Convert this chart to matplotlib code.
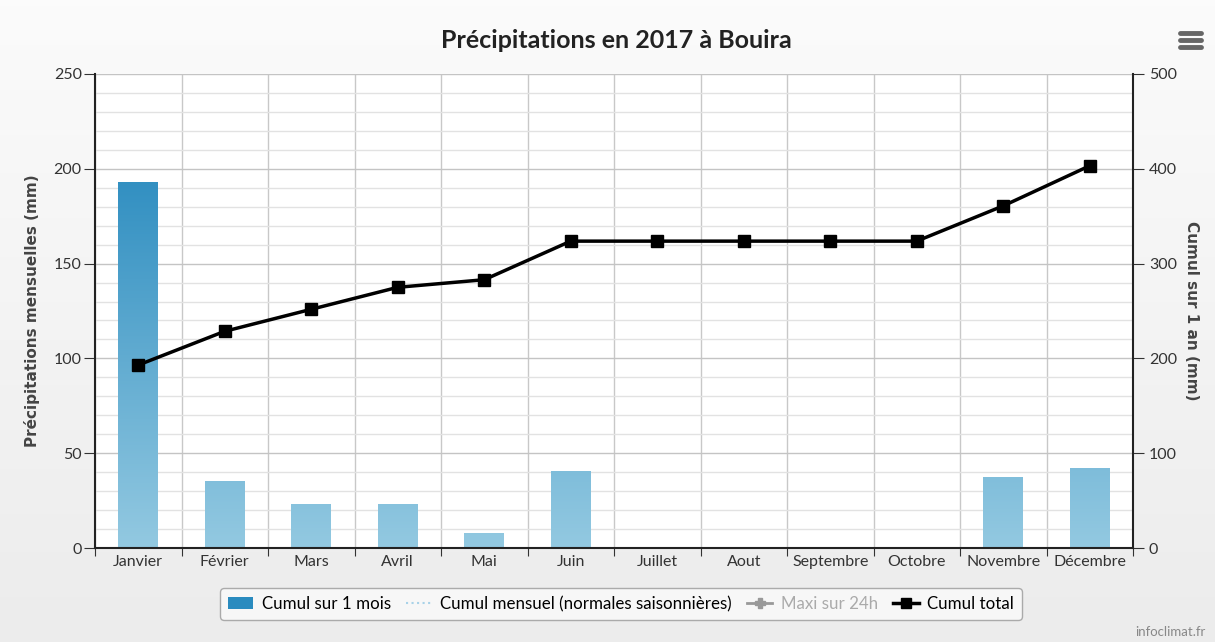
import numpy as np
import matplotlib
matplotlib.use("Agg")
import matplotlib.pyplot as plt
from matplotlib.colors import LinearSegmentedColormap
from matplotlib.lines import Line2D
from matplotlib.patches import Patch

plt.rcParams['font.family'] = ['Lato', 'DejaVu Sans']

# donnees
mois = ['Janvier', 'Février', 'Mars', 'Avril', 'Mai', 'Juin', 'Juillet',
        'Aout', 'Septembre', 'Octobre', 'Novembre', 'Décembre']
cumul_mois = [193, 35.6, 23.2, 23.2, 8, 40.7, 0, 0, 0, 0, 37.2, 42.3]
cumul_total = [193, 228.6, 251.8, 275, 283, 323.7, 323.7, 323.7, 323.7, 323.7, 360.9, 403.2]

fig = plt.figure(figsize=(12.15, 6.42), dpi=100)

# fond gris clair degrade
bg = fig.add_axes([0, 0, 1, 1], zorder=-10)
bg.imshow(np.linspace(0, 1, 100).reshape(-1, 1), aspect='auto', extent=[0, 1, 0, 1],
          cmap=LinearSegmentedColormap.from_list('bg', ['#fbfbfb', '#ececec']))
bg.axis('off')

ax = fig.add_axes([95 / 1215, 1 - 548 / 642, 1038 / 1215, 474 / 642])
ax.set_facecolor('white')
x = np.arange(len(mois))

# barres avec degrade
bar_cmap = LinearSegmentedColormap.from_list('bleu', ['#93c9e1', '#2a8bbf'])
bars = ax.bar(x, cumul_mois, width=0.46, color='none', edgecolor='none', zorder=2)
grad = np.linspace(1, 0, 256).reshape(-1, 1)
for b in bars:
    if b.get_height() <= 0:
        continue
    im = ax.imshow(grad, extent=[b.get_x(), b.get_x() + b.get_width(), 0, 210],
                   aspect='auto', cmap=bar_cmap, vmin=0, vmax=1, zorder=2)
    im.set_clip_path(b)

ax.set_xlim(-0.5, 11.5)
ax.set_ylim(0, 250)
ax.set_yticks(np.arange(0, 251, 50))
ax.set_yticks(np.arange(0, 251, 10), minor=True)
ax.grid(axis='y', which='major', color='#c4c4c4', lw=1, zorder=0)
ax.grid(axis='y', which='minor', color='#e2e2e2', lw=1, zorder=0)

ax.set_xticks(np.arange(-0.5, 12, 1))
ax.set_xticklabels([])
ax.set_xticks(x, minor=True)
ax.set_xticklabels(mois, minor=True)
ax.grid(axis='x', which='major', color='#c8c8c8', lw=1, zorder=0)
ax.tick_params(axis='x', which='major', length=6, color='#333333')
ax.tick_params(axis='x', which='minor', length=0, pad=5, labelsize=11.5, labelcolor='#333333')
ax.tick_params(axis='y', which='major', length=8, pad=1.5, color='#333333', labelsize=11.5,
               labelcolor='#333333')
ax.tick_params(axis='y', which='minor', length=0)

for s in ['left', 'bottom']:
    ax.spines[s].set_color('#222222')
    ax.spines[s].set_linewidth(1.5)
ax.spines['top'].set_visible(False)
ax.spines['right'].set_visible(False)
ax.set_ylabel('Précipitations mensuelles (mm)', fontsize=11, fontweight='bold',
              family='DejaVu Sans', color='#444444', labelpad=10)

ax2 = ax.twinx()
ax2.set_ylim(0, 500)
ax2.set_yticks(np.arange(0, 501, 100))
ax2.plot(x, cumul_total, color='black', lw=2.5, marker='s', markersize=8, zorder=5)
ax2.tick_params(axis='y', length=8, color='#333333', labelsize=11.5, labelcolor='#333333')
ax2.spines['right'].set_color('#222222')
ax2.spines['right'].set_linewidth(1.5)
for s in ['left', 'top', 'bottom']:
    ax2.spines[s].set_visible(False)
ax2.set_ylabel('Cumul sur 1 an (mm)', fontsize=11, fontweight='bold', family='DejaVu Sans',
               color='#444444', rotation=-90, labelpad=16)

fig.text(616 / 1215, 1 - 40 / 642, 'Précipitations en 2017 à Bouira', ha='center', va='center',
         fontsize=18, fontweight='bold', color='#222222')

# legende
handles = [
    Patch(facecolor='#2a8bbf', edgecolor='none'),
    Line2D([], [], color='#a8d2e8', lw=1.5, ls=':'),
    Line2D([], [], color='#999999', lw=2, marker='P', markersize=7),
    Line2D([], [], color='black', lw=2.5, marker='s', markersize=7),
]
labels = ['Cumul sur 1 mois', 'Cumul mensuel (normales saisonnières)', 'Maxi sur 24h', 'Cumul total']
leg = fig.legend(handles, labels, loc='center', bbox_to_anchor=(621 / 1215, 1 - 604 / 642),
                 ncol=4, frameon=True, fancybox=True, fontsize=12.2, handlelength=1.5,
                 handletextpad=0.5, columnspacing=0.9, borderpad=0.45)
leg.get_frame().set_edgecolor('#999999')
leg.get_frame().set_facecolor('#fafafa')
leg.get_frame().set_linewidth(1)
leg.get_texts()[2].set_color('#aaaaaa')

fig.text(1205 / 1215, 1 - 632 / 642, 'infoclimat.fr', ha='right', va='center',
         fontsize=9.5, color='#888888')

# icone menu
for yy in [33, 40, 47]:
    fig.add_artist(Line2D([1180 / 1215, 1201 / 1215], [1 - yy / 642, 1 - yy / 642],
                          color='#666666', lw=3.5, solid_capstyle='round'))

fig.savefig('out.png', dpi=100)
